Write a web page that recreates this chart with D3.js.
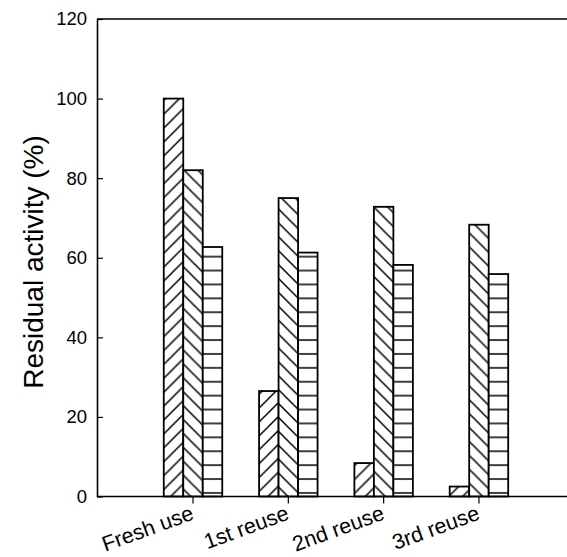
<!DOCTYPE html>
<html>
<head>
<meta charset="utf-8">
<script src="https://cdn.jsdelivr.net/npm/d3@7"></script>
<style>
  body { margin: 0; background: #fff; }
  text { font-family: "Liberation Sans", Arial, sans-serif; fill: #000; }
</style>
</head>
<body>
<div id="chart"></div>
<script>
// data
var categories = ["Fresh use", "1st reuse", "2nd reuse", "3rd reuse"];
var seriesNames = ["s1", "s2", "s3"];
var s1 = [100, 26.5, 8.4, 2.5];
var s2 = [82, 75, 72.8, 68.3];
var s3 = [62.7, 61.3, 58.2, 55.9];
var yTicks = [0, 20, 40, 60, 80, 100, 120];

var w = 567;
var h = 557;
var plotLeft = 97, plotTop = 19, plotBottom = 496.5, plotRight = 567;

var svg = d3.select("#chart")
            .append("svg")
            .attr("width", w)
            .attr("height", h);

// hatch patterns
var defs = svg.append("defs");
var p = 13.9;

var pat1 = defs.append("pattern")
               .attr("id", "hatch1")
               .attr("patternUnits", "userSpaceOnUse")
               .attr("width", p).attr("height", p);
pat1.append("rect").attr("width", p).attr("height", p).attr("fill", "white");
pat1.append("path")
    .attr("d", "M0," + p + "L" + p + ",0M-2,2L2,-2M" + (p - 2) + "," + (p + 2) + "L" + (p + 2) + "," + (p - 2))
    .attr("stroke", "black").attr("stroke-width", 1.5);

var pat2 = defs.append("pattern")
               .attr("id", "hatch2")
               .attr("patternUnits", "userSpaceOnUse")
               .attr("width", p).attr("height", p);
pat2.append("rect").attr("width", p).attr("height", p).attr("fill", "white");
pat2.append("path")
    .attr("d", "M0,0L" + p + "," + p + "M-2," + (p - 2) + "L2," + (p + 2) + "M" + (p - 2) + ",-2L" + (p + 2) + ",2")
    .attr("stroke", "black").attr("stroke-width", 1.5);

var pat3 = defs.append("pattern")
               .attr("id", "hatch3")
               .attr("patternUnits", "userSpaceOnUse")
               .attr("y", -0.5)
               .attr("width", p).attr("height", p);
pat3.append("rect").attr("width", p).attr("height", p).attr("fill", "white");
pat3.append("path")
    .attr("d", "M0," + (p / 2) + "H" + p)
    .attr("stroke", "black").attr("stroke-width", 1.5);

var fills = ["url(#hatch1)", "url(#hatch2)", "url(#hatch3)"];

var x = d3.scaleBand()
          .domain(categories)
          .range([145.35, 526.6]);

var xSub = d3.scaleBand()
             .domain(seriesNames)
             .range([-29.25, 29.25]);

var y = d3.scaleLinear()
          .domain([0, 120])
          .range([plotBottom, plotTop]);

var rows = [];
[s1, s2, s3].forEach(function(vals, si) {
  vals.forEach(function(v, i) {
    rows.push({cat: categories[i], series: seriesNames[si], si: si, value: v});
  });
});

svg.selectAll("rect.bar")
    .data(rows)
    .enter()
    .append("rect")
    .attr("class", "bar")
    .attr("x", function(d) { return x(d.cat) + x.bandwidth() / 2 + xSub(d.series); })
    .attr("y", function(d) { return y(d.value); })
    .attr("width", xSub.bandwidth())
    .attr("height", function(d) { return y(0) - y(d.value); })
    .attr("fill", function(d) { return fills[d.si]; })
    .attr("stroke", "black")
    .attr("stroke-width", 1.8);

// frame lines
svg.append("line")
    .attr("x1", plotLeft).attr("x2", plotRight)
    .attr("y1", plotTop).attr("y2", plotTop)
    .attr("stroke", "black").attr("stroke-width", 1.6);

svg.append("line")
    .attr("x1", plotLeft).attr("x2", plotRight)
    .attr("y1", plotBottom).attr("y2", plotBottom)
    .attr("stroke", "black").attr("stroke-width", 1.6);

// y axis, ticks inside
var yAxis = svg.append("g")
    .attr("transform", "translate(" + plotLeft + ",0)")
    .call(d3.axisLeft(y).tickValues(yTicks).tickSizeInner(-6).tickSizeOuter(0).tickPadding(10));
yAxis.select(".domain").attr("stroke-width", 1.6);
yAxis.selectAll(".tick line").attr("stroke-width", 1.2);
yAxis.selectAll("text").style("font-size", "18.5px");

// x axis ticks, outside
var xAxis = svg.append("g")
    .attr("transform", "translate(0," + plotBottom + ")")
    .call(d3.axisBottom(x).tickSizeInner(7).tickSizeOuter(0).tickFormat(""));
xAxis.select(".domain").remove();
xAxis.selectAll(".tick line").attr("stroke-width", 1.2);

svg.selectAll("text.xlab")
    .data(categories)
    .enter()
    .append("text")
    .attr("class", "xlab")
    .attr("text-anchor", "end")
    .attr("transform", function(d) {
      return "translate(" + (x(d) + x.bandwidth() / 2 + 2) + ",519) rotate(-20)";
    })
    .style("font-size", "21.5px")
    .text(function(d) { return d; });

svg.append("text")
    .attr("text-anchor", "middle")
    .attr("transform", "translate(43,262) rotate(-90)")
    .style("font-size", "28px")
    .text("Residual activity (%)");
</script>
</body>
</html>
